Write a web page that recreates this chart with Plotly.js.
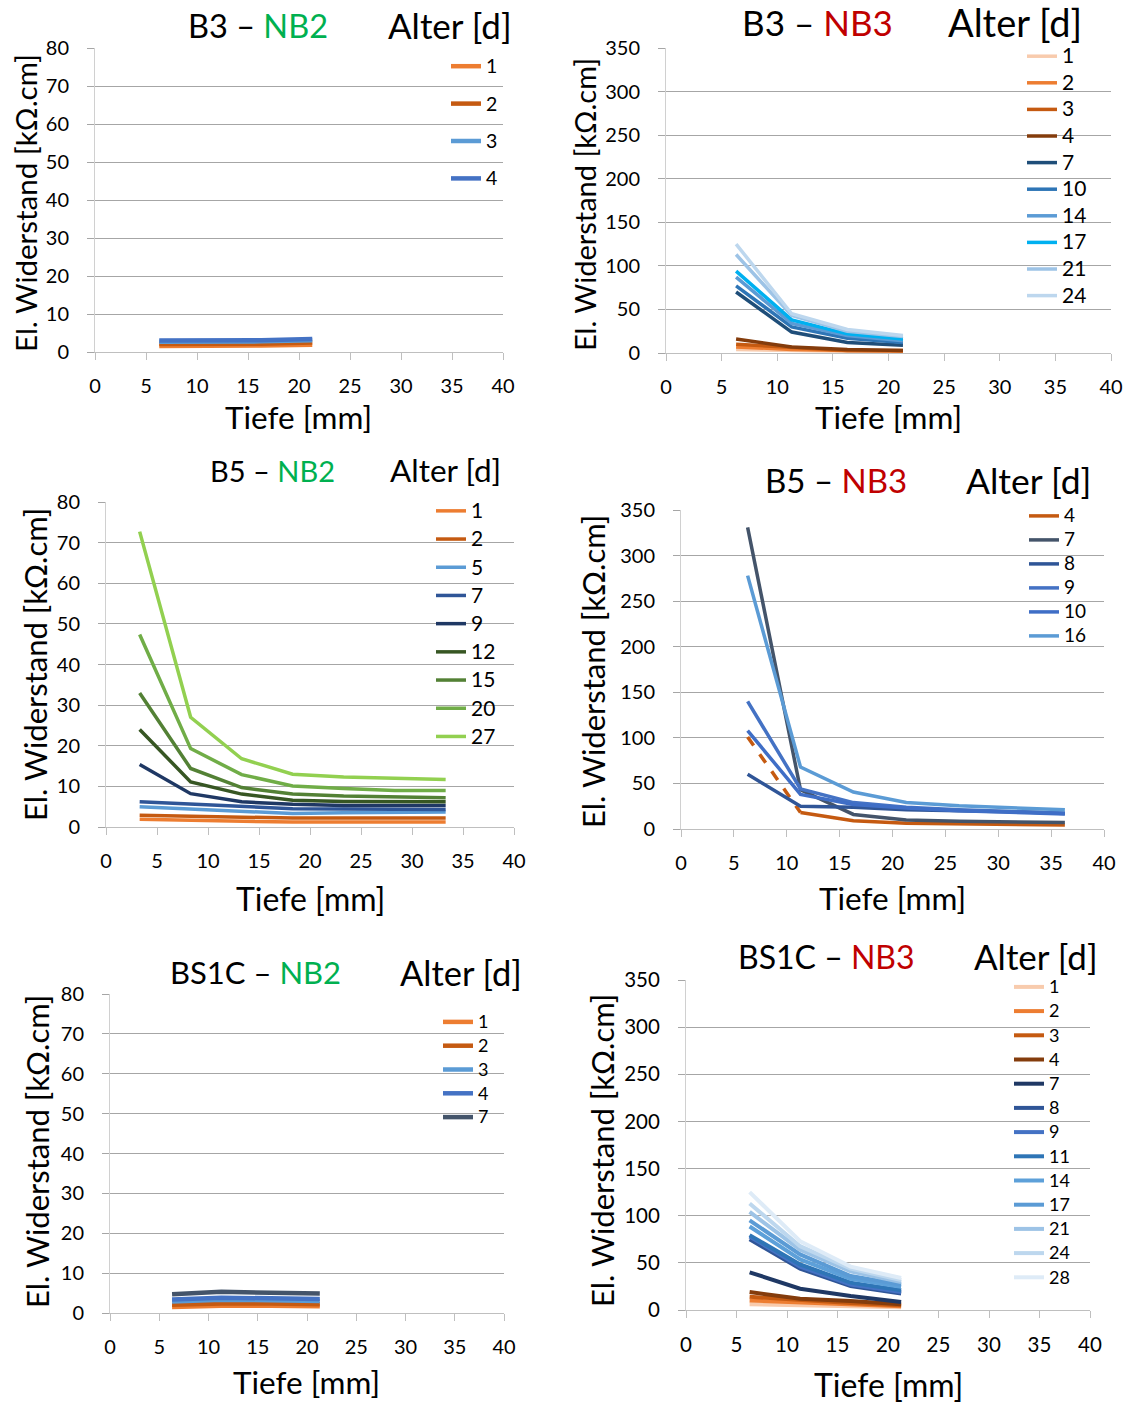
<!DOCTYPE html>
<html>
<head>
<meta charset="utf-8">
<script src="https://cdn.plot.ly/plotly-3.0.1.min.js"></script>
<style>
html,body{margin:0;padding:0;background:#fff;}
#chart{width:1131px;height:1403px;}
</style>
</head>
<body>
<div id="chart"></div>
<script>
// ---------------- DATA ----------------
// Depths [mm]
const depthB3 = [6.3, 11.3, 16.3, 21.3];
const depthB5nb2 = [3.3, 8.3, 13.3, 18.3, 23.3, 28.3, 33.3];
const depthB5nb3 = [6.3, 11.3, 16.3, 21.3, 26.3, 31.3, 36.3];
const depthBS1C = [6.3, 11.3, 16.3, 21.3];

// B3 – NB2
const agesB3nb2 = ["1", "2", "3", "4"];
const valsB3nb2 = [
  [1.6, 1.6, 1.7, 1.9],
  [2.1, 2.1, 2.2, 2.5],
  [2.7, 2.7, 2.8, 3.1],
  [3.0, 3.0, 3.1, 3.4]
];

// B3 – NB3
const agesB3nb3 = ["1", "2", "3", "4", "7", "10", "14", "17", "21", "24"];
const valsB3nb3 = [
  [4, 3, 2, 2],
  [7, 4, 3, 2],
  [10, 6, 3, 3],
  [16, 7, 4, 3],
  [70, 24, 12, 9],
  [77, 30, 17, 12],
  [87, 34, 20, 14],
  [94, 38, 22, 16],
  [113, 43, 25, 19],
  [125, 45, 27, 20]
];

// B5 – NB2
const agesB5nb2 = ["1", "2", "5", "7", "9", "12", "15", "20", "27"];
const valsB5nb2 = [
  [1.9, 1.6, 1.4, 1.2, 1.2, 1.2, 1.2],
  [2.9, 2.6, 2.4, 2.2, 2.2, 2.2, 2.2],
  [5.0, 4.5, 3.9, 3.3, 3.5, 3.6, 3.7],
  [6.2, 5.6, 5.1, 4.5, 4.4, 4.3, 4.3],
  [15.4, 8.2, 6.2, 5.6, 5.3, 5.3, 5.3],
  [24.0, 11.1, 8.1, 6.6, 6.3, 6.2, 6.2],
  [33.0, 14.4, 9.7, 8.1, 7.6, 7.4, 7.2],
  [47.4, 19.3, 12.9, 10.1, 9.5, 9.0, 9.0],
  [72.7, 27.0, 16.8, 13.0, 12.3, 11.9, 11.7]
];

// B5 – NB3
const agesB5nb3 = ["4", "7", "8", "9", "10", "16"];
const valsB5nb3 = [
  [101, 18, 9, 6.2, 5.5, 4.7, 4.4],
  [331, 43, 16, 10, 8.4, 7.3, 7],
  [60, 25, 24, 21, 20, 19, 17],
  [140, 44, 29, 24, 21, 19.3, 17.5],
  [108, 38, 27, 23, 20, 18, 16.4],
  [278, 68, 40.5, 29.2, 25.5, 23, 21]
];

// BS1C – NB2
const agesBS1Cnb2 = ["1", "2", "3", "4", "7"];
const valsBS1Cnb2 = [
  [1.5, 1.8, 1.8, 1.7],
  [2.1, 2.4, 2.4, 2.2],
  [2.9, 3.3, 3.2, 3.0],
  [3.4, 3.8, 3.7, 3.5],
  [4.7, 5.3, 5.1, 4.9]
];

// BS1C – NB3
const agesBS1Cnb3 = ["1", "2", "3", "4", "7", "8", "9", "11", "14", "17", "21", "24", "28"];
const valsBS1Cnb3 = [
  [6, 5, 4, 3],
  [10, 8, 6, 4],
  [14, 10.5, 7.5, 5],
  [19, 12, 9.5, 6],
  [40, 22.6, 14.8, 8.5],
  [75, 43.8, 25.4, 17.6],
  [78, 46, 27, 19],
  [79.4, 48.3, 29, 21],
  [88.6, 53.6, 33, 24.7],
  [95, 59, 36, 27],
  [104, 64, 41, 29.6],
  [113, 67.7, 44, 31.7],
  [125, 73, 46, 34]
];

// ---------------- STYLE / LAYOUT ----------------
const colB3nb2 = ["#ED7D31", "#C55A11", "#5B9BD5", "#4472C4"];
const colB3nb3 = ["#F8CBAD", "#ED7D31", "#C55A11", "#843C0C", "#1F4E79", "#2E75B6", "#5B9BD5", "#00B0F0", "#9DC3E6", "#BDD7EE"];
const colB5nb2 = ["#ED7D31", "#C55A11", "#5B9BD5", "#2F5597", "#1F3864", "#375623", "#538135", "#70AD47", "#92D050"];
const colB5nb3 = ["#C55A11", "#44546A", "#2F5597", "#4472C4", "#3F6EC6", "#5B9BD5"];
const colBS1Cnb2 = ["#ED7D31", "#C55A11", "#5B9BD5", "#4472C4", "#44546A"];
const colBS1Cnb3 = ["#F8CBAD", "#ED7D31", "#C55A11", "#843C0C", "#1F3864", "#2F5597", "#4472C4", "#2E75B6", "#5DA0D9", "#5B9BD5", "#9DC3E6", "#BDD7EE", "#DEEBF7"];

const W = 1131, H = 1403;
const FONT = "Lato, 'Open Sans', sans-serif";
const GREEN = "#00B050", RED = "#C00000";
const px = v => v / W;
const py = v => 1 - v / H;

// leg: [left px, top px, spacing font size, gap, shown label size]
const panels = [
  {depth: depthB3, ages: agesB3nb2, vals: valsB3nb2, cols: colB3nb2, ymax: 80, dy: 10, lw: 4.5,
   box: [95, 503, 48, 352], tick: 20,
   title: ["B3 – ", "NB2", GREEN], tx: 258, ty: 25, tfs: 32.5, ax: 450, afs2: 35,
   ytx: 25, yty: 203, yfs: 29.5, xtx: 298, xty: 417, xfs: 31.5,
   leg: [446, 48, 18, 11, 19.5]},
  {depth: depthB3, ages: agesB3nb3, vals: valsB3nb3, cols: colB3nb3, ymax: 350, dy: 50, lw: 3.5,
   box: [666, 1111, 48, 353], tick: 20,
   title: ["B3 – ", "NB3", RED], tx: 817, ty: 22, tfs: 35, ax: 1015, afs2: 38,
   ytx: 584, yty: 205, yfs: 29, xtx: 888, xty: 417, xfs: 31.5,
   leg: [1022, 38, 18, 0.2, 21]},
  {depth: depthB5nb2, ages: agesB5nb2, vals: valsB5nb2, cols: colB5nb2, ymax: 80, dy: 10, lw: 3.5,
   box: [106, 514, 502, 827], tick: 20,
   title: ["B5 – ", "NB2", GREEN], tx: 272, ty: 470, tfs: 29, ax: 445, afs2: 31.5,
   ytx: 35, yty: 665, yfs: 31, xtx: 310, xty: 898, xfs: 32,
   leg: [431, 492, 19, 0.5, 21]},
  {depth: depthB5nb3, ages: agesB5nb3, vals: valsB5nb3, cols: colB5nb3, ymax: 350, dy: 50, lw: 3.5,
   box: [681, 1104, 510, 829], tick: 20,
   title: ["B5 – ", "NB3", RED], tx: 836, ty: 480, tfs: 33, ax: 1028, afs2: 35.5,
   ytx: 593, yty: 672, yfs: 31, xtx: 892, xty: 898, xfs: 31.5,
   leg: [1024, 499, 16, 0.2, 19], dashFirst: "4"},
  {depth: depthBS1C, ages: agesBS1Cnb2, vals: valsBS1Cnb2, cols: colBS1Cnb2, ymax: 80, dy: 10, lw: 4.5,
   box: [110, 504, 994, 1313], tick: 20,
   title: ["BS1C – ", "NB2", GREEN], tx: 255, ty: 972, tfs: 31, ax: 461, afs2: 34.5,
   ytx: 37, yty: 1152, yfs: 31, xtx: 306, xty: 1382, xfs: 31.5,
   leg: [438, 1005, 16, 0, 18]},
  {depth: depthBS1C, ages: agesBS1Cnb3, vals: valsBS1Cnb3, cols: colBS1Cnb3, ymax: 350, dy: 50, lw: 4,
   box: [686, 1090, 980, 1310], tick: 20.5,
   title: ["BS1C – ", "NB3", RED], tx: 826, ty: 956, tfs: 32, ax: 1036, afs2: 35,
   ytx: 602, yty: 1151, yfs: 31, xtx: 888, xty: 1384, xfs: 32,
   leg: [1009, 970, 16, 0.4, 18]}
];

const traces = [];
const layout = {
  width: W, height: H, autosize: false,
  margin: {l: 0, r: 0, t: 0, b: 0, pad: 0},
  paper_bgcolor: "#fff", plot_bgcolor: "rgba(0,0,0,0)",
  font: {family: FONT, color: "#000"},
  annotations: [],
  showlegend: true
};

panels.forEach((p, k) => {
  const n = k + 1;
  const xa = "x" + (n === 1 ? "" : n), ya = "y" + (n === 1 ? "" : n);
  const legName = "legend" + (n === 1 ? "" : n);
  const [lx, ly, lfs, lgap, lshow] = p.leg;
  p.ages.forEach((age, i) => {
    const grp = "p" + n + "_" + age;
    const base = {type: "scatter", mode: "lines", xaxis: xa, yaxis: ya, legend: legName,
      legendgroup: grp, name: "<span style='font-size:" + lshow + "px'>" + age + "</span>",
      hoverinfo: "x+y"};
    if (p.dashFirst === age) {
      traces.push(Object.assign({}, base, {x: p.depth.slice(0, 2), y: p.vals[i].slice(0, 2),
        showlegend: false, line: {color: p.cols[i], width: p.lw, dash: "dash"}}));
      traces.push(Object.assign({}, base, {x: p.depth.slice(1), y: p.vals[i].slice(1),
        line: {color: p.cols[i], width: p.lw}}));
    } else {
      traces.push(Object.assign({}, base, {x: p.depth, y: p.vals[i],
        line: {color: p.cols[i], width: p.lw}}));
    }
  });
  const [x0, x1, yt, yb] = p.box;
  layout["xaxis" + (n === 1 ? "" : n)] = {
    domain: [px(x0), px(x1)], anchor: ya, range: [0, 40], dtick: 5, tick0: 0,
    showgrid: false, zeroline: false, showline: true, linecolor: "#BFBFBF", linewidth: 1,
    ticks: "outside", ticklen: 7, tickcolor: "#BFBFBF", ticklabelstandoff: 9,
    tickfont: {size: p.tick, family: FONT, color: "#000"}, fixedrange: true
  };
  layout["yaxis" + (n === 1 ? "" : n)] = {
    domain: [py(yb), py(yt)], anchor: xa, range: [0, p.ymax], dtick: p.dy, tick0: 0,
    showgrid: true, gridcolor: "#A6A6A6", gridwidth: 1, zeroline: false,
    showline: true, linecolor: "#D0D0D0", linewidth: 1,
    ticks: "outside", ticklen: 7, tickcolor: "#A6A6A6", ticklabelstandoff: 14,
    tickfont: {size: p.tick, family: FONT, color: "#000"}, fixedrange: true
  };
  layout[legName] = {
    x: px(lx), xanchor: "left", y: py(ly), yanchor: "top",
    bgcolor: "rgba(0,0,0,0)", borderwidth: 0, traceorder: "grouped",
    tracegroupgap: lgap, font: {size: lfs, family: FONT, color: "#000"}
  };
  layout.annotations.push(
    {xref: "paper", yref: "paper", x: px(p.tx), y: py(p.ty), xanchor: "center", yanchor: "middle",
     showarrow: false, font: {size: p.tfs, family: FONT, color: "#000"},
     text: p.title[0] + "<span style='color:" + p.title[2] + "'>" + p.title[1] + "</span>"},
    {xref: "paper", yref: "paper", x: px(p.ax), y: py(p.ty), xanchor: "center", yanchor: "middle",
     showarrow: false, font: {size: p.afs2, family: FONT, color: "#000"}, text: "Alter [d]"},
    {xref: "paper", yref: "paper", x: px(p.ytx), y: py(p.yty), xanchor: "center", yanchor: "middle",
     showarrow: false, textangle: -90, font: {size: p.yfs, family: FONT, color: "#000"},
     text: "El. Widerstand [kΩ.cm]"},
    {xref: "paper", yref: "paper", x: px(p.xtx), y: py(p.xty), xanchor: "center", yanchor: "middle",
     showarrow: false, font: {size: p.xfs, family: FONT, color: "#000"}, text: "Tiefe [mm]"}
  );
});

Plotly.newPlot("chart", traces, layout, {displayModeBar: false, responsive: false});
</script>
</body>
</html>
